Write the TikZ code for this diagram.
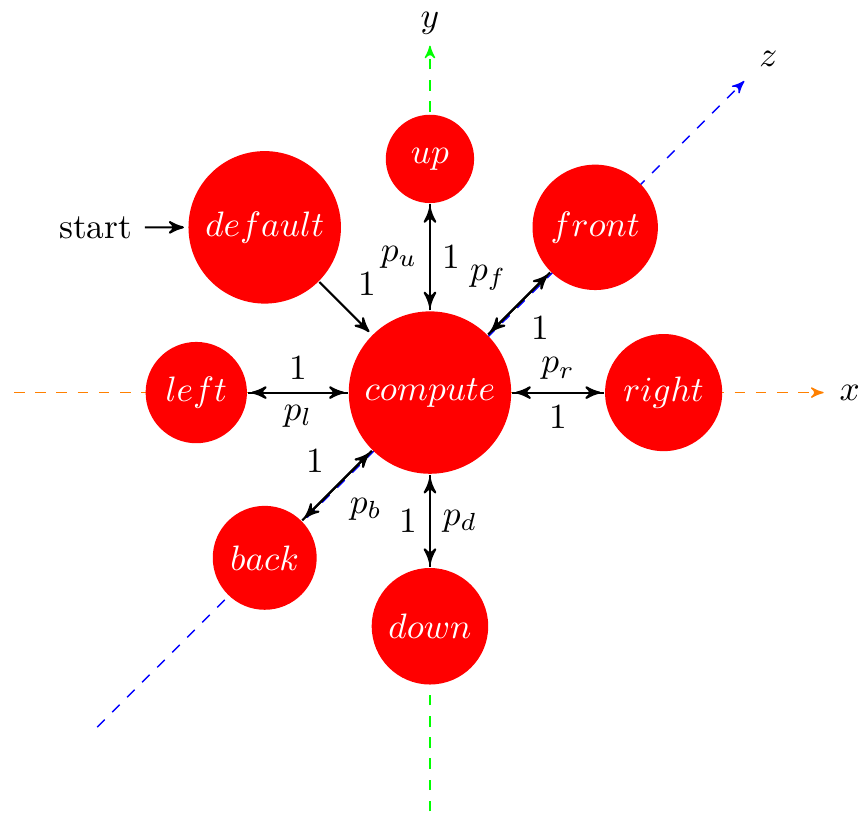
\documentclass[tikz,border=0pt]{standalone}
\usetikzlibrary{automata,arrows}
\begin{document}
\begin{tikzpicture}[scale=0.93,->,>=stealth',shorten >=1pt,auto,semithick,
    every state/.style={fill=red,draw=none,text=white},
    axis/.style={dashed,thin},
    axislabel/.style={text=black}]
  \useasboundingbox (-4.6,-4.52) rectangle (4.59,4.2);
  % axes behind the states
  \coordinate (xfrom) at (-4.45,0);
  \coordinate (xto) at (4.25,0);
  \coordinate (yfrom) at (0,-4.48);
  \coordinate (yto) at (0,3.75);
  \coordinate (zfrom) at (-3.56,-3.58);
  \coordinate (zto) at (3.39,3.36);
  \draw[axis,orange] (xfrom) -- (xto) node[axislabel,right] (xlabel) {$x$};
  \draw[axis,green] (yfrom) -- (yto) node[axislabel,above,inner sep=2pt] (ylabel) {$y$};
  \draw[axis,blue] (zfrom) -- (zto) node[axislabel,above right] (zlabel) {$z$};
  % states
  \node[state] (compute) at (0,0) {$compute$};
  \node[state,initial,initial text=start] (default) at (135:2.5) {$default$};
  \node[state] (up) at (90:2.5) {$up$};
  \node[state] (front) at (45:2.5) {$front$};
  \node[state] (right) at (0:2.5) {$right$};
  \node[state] (left) at (180:2.5) {$left$};
  \node[state] (back) at (225:2.5) {$back$};
  \node[state] (down) at (270:2.5) {$down$};
  % transitions
  \path (default) edge node {1} (compute)
        (compute) edge node {$p_u$} (up)
        (up) edge node {1} (compute)
        (compute) edge node {$p_f$} (front)
        (front) edge node {1} (compute)
        (compute) edge node {$p_r$} (right)
        (right) edge node {1} (compute)
        (compute) edge node {$p_l$} (left)
        (left) edge node {1} (compute)
        (compute) edge node {$p_b$} (back)
        (back) edge node {1} (compute)
        (compute) edge node {$p_d$} (down)
        (down) edge node {1} (compute);
\end{tikzpicture}
\end{document}
